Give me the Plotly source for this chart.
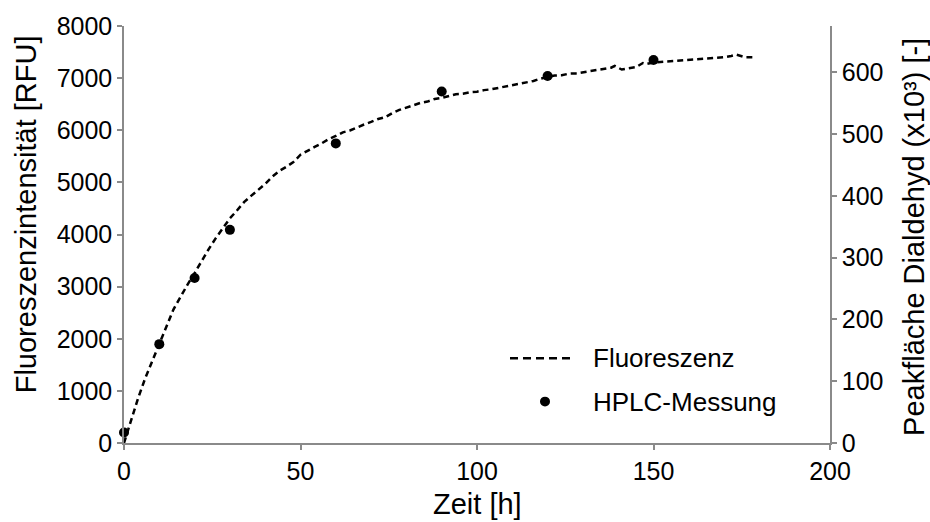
import plotly.graph_objects as go

# Fluorescence signal over time (left axis, RFU)
zeit_fl = [0, 2, 4, 6, 8, 10, 12, 14, 16, 18, 20, 22, 24, 26, 28, 30, 32, 34, 36, 38,
           40, 42, 44, 46, 48, 50, 52, 54, 56, 58, 60, 62, 64, 66, 68, 70, 72, 74, 76, 78,
           80, 82, 84, 86, 88, 90, 92, 94, 96, 98, 100, 102, 104, 106, 108, 110, 112, 114,
           116, 118, 120, 122, 124, 126, 128, 130, 132, 134, 136, 138, 139, 141, 143, 145,
           147, 148, 150, 152, 154, 156, 158, 160, 162, 164, 166, 168, 170, 172, 173.5,
           175, 176, 178]
fluoreszenz = [0, 440, 860, 1240, 1560, 1890, 2230, 2560, 2810, 3040, 3260, 3500, 3720,
               3930, 4120, 4310, 4460, 4620, 4740, 4860, 4970, 5110, 5220, 5300, 5390,
               5530, 5610, 5680, 5750, 5830, 5890, 5960, 5995, 6060, 6110, 6160, 6215,
               6250, 6330, 6390, 6440, 6490, 6525, 6550, 6600, 6620, 6650, 6690, 6700,
               6730, 6740, 6770, 6785, 6810, 6845, 6865, 6885, 6915, 6945, 6990, 7020,
               7050, 7055, 7085, 7090, 7110, 7135, 7150, 7175, 7200, 7235, 7165, 7190,
               7210, 7290, 7270, 7300, 7310, 7320, 7340, 7345, 7360, 7360, 7375, 7380,
               7395, 7400, 7425, 7450, 7420, 7400, 7400]

# HPLC peak areas of the dialdehyde (right axis, x10^3)
zeit_hplc = [0, 10, 20, 30, 60, 90, 120, 150]
peakflaeche = [17, 160, 267, 345, 485, 569, 594, 620]

legend_labels = ["Fluoreszenz", "HPLC-Messung"]
x_title = "Zeit [h]"
y_title = "Fluoreszenzintensität [RFU]"
y2_title = "Peakfläche Dialdehyd (x10³) [-]"

axis_grey = "#8a8a8a"
font_family = "Liberation Sans, Arial, sans-serif"
line_dash = "6px,4px"
title_size = 29

fig = go.Figure()
fig.add_trace(go.Scatter(
    x=zeit_fl, y=fluoreszenz, name=legend_labels[0], mode="lines",
    line=dict(color="black", width=2.5, dash=line_dash),
    showlegend=False,
))
fig.add_trace(go.Scatter(
    x=zeit_hplc, y=peakflaeche, name=legend_labels[1], mode="markers",
    marker=dict(color="black", size=10),
    yaxis="y2", cliponaxis=False, showlegend=False,
))

axis_common = dict(
    showline=True, linecolor=axis_grey, linewidth=1.5,
    ticks="outside", tickcolor=axis_grey, ticklen=5, tickwidth=1.5,
    showgrid=False, zeroline=False,
    tickfont=dict(size=25, color="black", family=font_family),
)

# plot area in pixels, used for placing the key and axis titles
L, R, T, B = 124, 100, 20, 79
W, H = 930, 522
pw, ph = W - L - R, H - T - B


def px_x(px):
    return (px - L) / pw


def px_y(py):
    return (H - B - py) / ph


shapes = [
    dict(type="line", xref="paper", yref="paper",
         x0=px_x(510), x1=px_x(573), y0=px_y(357), y1=px_y(357),
         line=dict(color="black", width=2.5, dash="8px,5px")),
    dict(type="circle", xref="paper", yref="paper",
         x0=px_x(540), x1=px_x(550), y0=px_y(396), y1=px_y(406),
         fillcolor="black", line=dict(color="black", width=0)),
]


def label(text, x, y, size, angle=0):
    return dict(text=text, xref="paper", yref="paper", x=px_x(x), y=px_y(y),
                xanchor="center" if angle else "left", yanchor="middle",
                textangle=angle, showarrow=False, font=dict(size=size))


annotations = [
    label(legend_labels[0], 591, 357, 26),
    label(legend_labels[1], 591, 401, 26),
    dict(text=x_title, xref="paper", yref="paper", x=0.5, y=px_y(505),
         xanchor="center", yanchor="middle", showarrow=False,
         font=dict(size=title_size)),
    label(y_title, 26, 211, title_size, angle=-90),
    label(y2_title, 914, 234, title_size, angle=-90),
]

fig.update_layout(
    width=W, height=H,
    margin=dict(l=L, r=R, t=T, b=B),
    paper_bgcolor="white", plot_bgcolor="white",
    font=dict(family=font_family, color="black", size=25),
    xaxis=dict(range=[0, 200], tickvals=[0, 50, 100, 150, 200], **axis_common),
    yaxis=dict(range=[0, 8000], tickvals=list(range(0, 8001, 1000)), **axis_common),
    yaxis2=dict(range=[0, 675], tickvals=list(range(0, 601, 100)),
                overlaying="y", side="right", **axis_common),
    shapes=shapes,
    annotations=annotations,
    showlegend=False,
)

fig.write_html("out.html")
